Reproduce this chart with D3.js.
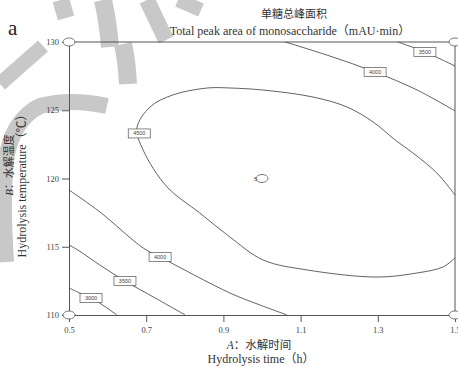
<!DOCTYPE html>
<html>
<head>
<meta charset="utf-8">
<script src="https://cdn.jsdelivr.net/npm/d3@7"></script>
<style>
  html, body { margin: 0; padding: 0; background: #fff; }
  svg { display: block; }
</style>
</head>
<body>
<div id="chart"></div>
<script>
// Axis ranges and tick values
const xDomain = [0.5, 1.5];
const yDomain = [110, 130];
const xTicks = [0.5, 0.7, 0.9, 1.1, 1.3, 1.5];
const yTicks = [110, 115, 120, 125, 130];

// Contour lines of the total peak area (mAU·min), as [time h, temperature ℃]
const contour3000 = [[0.5, 111.98], [0.528, 111.61], [0.557, 111.25], [0.591, 110.66], [0.624, 110.0]];
const contour3500 = [[0.5, 115.13], [0.523, 114.76], [0.580, 113.66], [0.645, 112.49], [0.723, 111.25], [0.801, 110.0]];
const contour4000Low = [[0.5, 119.16], [0.580, 117.55], [0.692, 114.91], [0.736, 114.25], [0.917, 111.61], [0.995, 110.73], [1.065, 110.0]];
const contour4500 = [[1.5, 118.79], [1.453, 120.40], [1.391, 121.87], [1.345, 122.82], [1.288, 124.14], [1.220, 125.24],
  [1.132, 125.97], [1.003, 126.48], [0.917, 126.63], [0.858, 126.63], [0.769, 126.12], [0.710, 125.24], [0.676, 123.70],
  [0.692, 122.09], [0.754, 119.38], [0.839, 117.47], [0.917, 115.71], [1.003, 114.03], [1.117, 113.30], [1.298, 112.78],
  [1.402, 113.08], [1.469, 113.52], [1.5, 114.18]];
const contour4000High = [[1.060, 130.0], [1.176, 128.97], [1.293, 127.80], [1.402, 126.48], [1.5, 124.95]];
const contour3500High = [[1.352, 130.0], [1.422, 129.27], [1.5, 128.24]];

const contours = [
  { level: "3000", points: contour3000, labelAt: [0.557, 111.25] },
  { level: "3500", points: contour3500, labelAt: [0.645, 112.49] },
  { level: "4000", points: contour4000Low, labelAt: [0.736, 114.25] },
  { level: "4500", points: contour4500, labelAt: [0.682, 123.3] },
  { level: "4000", points: contour4000High, labelAt: [1.293, 127.80] },
  { level: "3500", points: contour3500High, labelAt: [1.422, 129.27] }
];

// Design points: factorial corners and the replicated centre point
const designPoints = [[0.5, 130], [1.5, 130], [0.5, 110], [1.5, 110], [1.0, 120]];
const centreReplicates = "5";

const W = 458, H = 367;
const margin = { left: 69, right: 3, top: 42, bottom: 52 };

const svg = d3.select("#chart").append("svg")
  .attr("width", W).attr("height", H);

// Light grey stamp strokes in the upper-left corner, behind the chart
const stamp = svg.append("g").attr("fill", "none").attr("stroke", "#c8c8c8").attr("stroke-linecap", "butt");
const stampStrokes = [
  { d: "M0,84 L43,46", w: 15 },
  { d: "M61,0 L66,18", w: 17 },
  { d: "M103,0 Q108,22 110,47", w: 18 },
  { d: "M123,44 Q127,62 128,84", w: 18 },
  { d: "M147,0 L166,40", w: 16 },
  { d: "M178,0 L201,10", w: 14 },
  { d: "M6,262 Q2,200 6,160 Q12,120 40,106 Q70,98 107,106", w: 16 }
];
stamp.selectAll("path").data(stampStrokes).join("path")
  .attr("d", d => d.d).attr("stroke-width", d => d.w);

const x = d3.scaleLinear().domain(xDomain).range([margin.left, W - margin.right]);
const y = d3.scaleLinear().domain(yDomain).range([H - margin.bottom, margin.top]);

const axisColor = "#555";
const lineColor = "#3a3a3a";

// Plot frame (top and right edges)
svg.append("line").attr("x1", x(xDomain[0])).attr("x2", x(xDomain[1]))
  .attr("y1", y(yDomain[1])).attr("y2", y(yDomain[1]))
  .attr("stroke", axisColor).attr("stroke-width", 1);
svg.append("line").attr("x1", x(xDomain[1])).attr("x2", x(xDomain[1]))
  .attr("y1", y(yDomain[0])).attr("y2", y(yDomain[1]))
  .attr("stroke", axisColor).attr("stroke-width", 1);

// Axes
const xAxis = svg.append("g")
  .attr("transform", `translate(0,${y(yDomain[0])})`)
  .call(d3.axisBottom(x).tickValues(xTicks).tickSize(7).tickSizeOuter(0).tickFormat(d3.format(".1f")));
const yAxis = svg.append("g")
  .attr("transform", `translate(${x(xDomain[0])},0)`)
  .call(d3.axisLeft(y).tickValues(yTicks).tickSize(7).tickSizeOuter(0).tickFormat(d3.format("d")));

[xAxis, yAxis].forEach(g => {
  g.select(".domain").attr("stroke", axisColor);
  g.selectAll(".tick line").attr("stroke", axisColor);
  g.selectAll(".tick text").attr("fill", "#444").attr("font-size", 8.5)
    .attr("font-family", "'Liberation Serif', 'Times New Roman', serif");
});
xAxis.selectAll(".tick text").attr("dy", "0.9em");

// Contour lines
const line = d3.line().x(d => x(d[0])).y(d => y(d[1])).curve(d3.curveCatmullRom.alpha(0.5));
const plot = svg.append("g");
plot.selectAll("path.contour").data(contours).join("path")
  .attr("class", "contour")
  .attr("d", d => line(d.points))
  .attr("fill", "none").attr("stroke", lineColor).attr("stroke-width", 0.8);

// Contour level labels
const lab = plot.selectAll("g.clabel").data(contours).join("g")
  .attr("class", "clabel")
  .attr("transform", d => `translate(${x(d.labelAt[0])},${y(d.labelAt[1])})`);
lab.append("rect").attr("x", -11).attr("y", -4.5).attr("width", 22).attr("height", 9)
  .attr("fill", "#fff").attr("stroke", "#555").attr("stroke-width", 0.7);
lab.append("text").text(d => d.level)
  .attr("text-anchor", "middle").attr("dy", "0.35em")
  .attr("font-size", 5.5).attr("fill", "#444")
  .attr("font-family", "'Liberation Sans', Arial, sans-serif");

// Design point markers
svg.selectAll("ellipse.dp").data(designPoints).join("ellipse")
  .attr("class", "dp")
  .attr("cx", d => x(d[0])).attr("cy", d => y(d[1]))
  .attr("rx", 6).attr("ry", 4)
  .attr("fill", "#fff").attr("stroke", "#555").attr("stroke-width", 0.8);
svg.append("text").text(centreReplicates)
  .attr("x", x(1.0) - 8).attr("y", y(120) + 2)
  .attr("font-size", 6).attr("fill", "#555")
  .attr("font-family", "'Liberation Sans', Arial, sans-serif");

// Panel letter
svg.append("text").text("a")
  .attr("x", 8).attr("y", 35)
  .attr("font-size", 21).attr("fill", "#222")
  .attr("font-family", "'Liberation Serif', 'Times New Roman', serif");

// Titles
const serif = "'Liberation Serif', 'Times New Roman', 'Noto Sans CJK SC', serif";
const cjk = "'Noto Sans CJK SC', sans-serif";
svg.append("text").text("单糖总峰面积")
  .attr("x", 294).attr("y", 18).attr("text-anchor", "middle")
  .attr("font-size", 11).attr("font-family", cjk).attr("fill", "#333");
svg.append("text").text("Total peak area of monosaccharide（mAU·min）")
  .attr("x", 290).attr("y", 35).attr("text-anchor", "middle")
  .attr("font-size", 12).attr("font-family", serif).attr("fill", "#333");

// X axis title
const xt1 = svg.append("text").attr("x", 259).attr("y", 349).attr("text-anchor", "middle")
  .attr("font-size", 11.5).attr("fill", "#333");
xt1.append("tspan").text("A").attr("font-style", "italic").attr("font-family", serif);
xt1.append("tspan").text("：水解时间").attr("font-family", cjk);
svg.append("text").text("Hydrolysis time（h）")
  .attr("x", 261).attr("y", 363).attr("text-anchor", "middle")
  .attr("font-size", 12).attr("font-family", serif).attr("fill", "#333");

// Y axis title
const yt1 = svg.append("text").attr("transform", "translate(13,165) rotate(-90)")
  .attr("text-anchor", "middle").attr("font-size", 11).attr("fill", "#333");
yt1.append("tspan").text("B").attr("font-style", "italic").attr("font-family", serif);
yt1.append("tspan").text("：水解温度").attr("font-family", cjk);
svg.append("text").text("Hydrolysis temperature（℃）")
  .attr("transform", "translate(26,183) rotate(-90)")
  .attr("text-anchor", "middle").attr("font-size", 12)
  .attr("font-family", serif).attr("fill", "#333");
</script>
</body>
</html>
